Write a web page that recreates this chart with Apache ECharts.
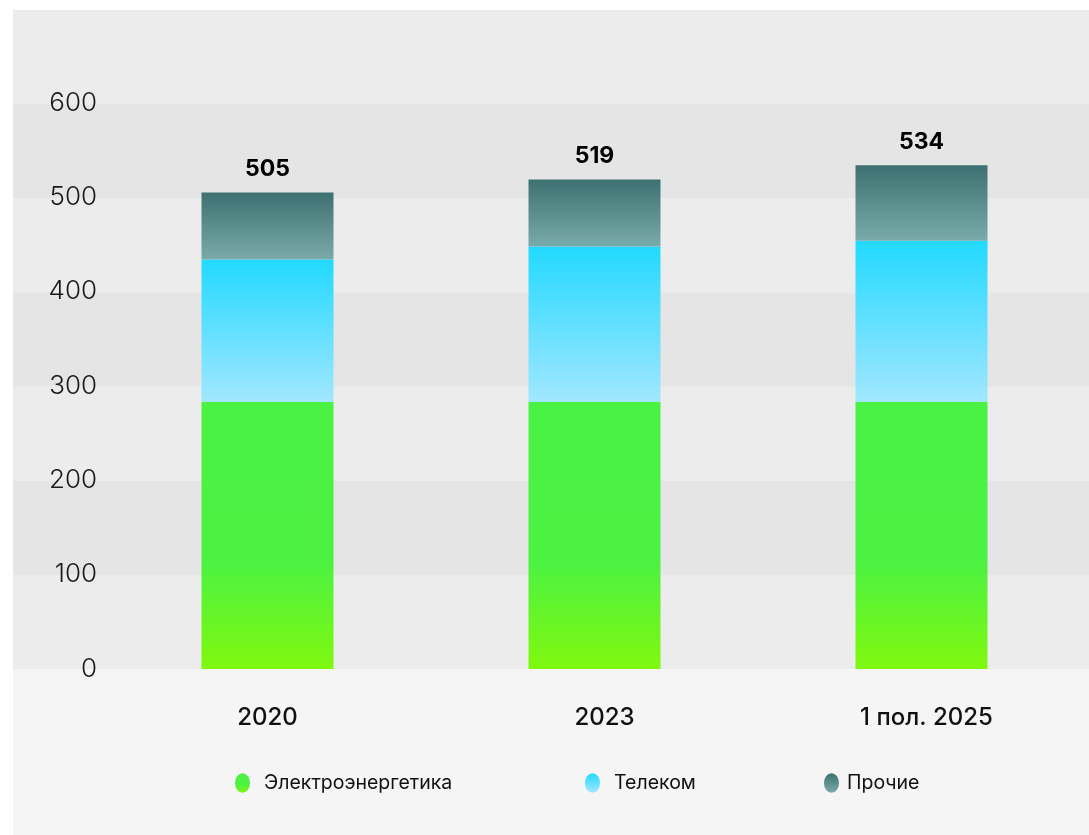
<!DOCTYPE html>
<html>
<head>
<meta charset="utf-8">
<script src="https://cdn.jsdelivr.net/npm/echarts@6/dist/echarts.min.js"></script>
<style>
  html, body { margin: 0; padding: 0; background: #ffffff; }
  #chart { position: absolute; left: 13px; top: 10px; width: 1076px; height: 825px; }
</style>
</head>
<body>
<div id="chart"></div>
<script>
// данные
var categories = ['2020', '2023', '1 пол. 2025'];
var energy = [283, 283, 283];
var telecom = [151, 165, 171];
var other = [71, 71, 80];
var totals = [505, 519, 534];
var yTicks = [0, 100, 200, 300, 400, 500, 600];

var font = 'Inter, "Noto Sans", sans-serif';
var ellipse = 'path://M50,0 A50,65 0 1,1 50,130 A50,65 0 1,1 50,0 Z';

function grad(top, mid, bottom) {
  return new echarts.graphic.LinearGradient(0, 0, 0, 1, [
    { offset: 0, color: top },
    { offset: 0.6, color: mid },
    { offset: 1, color: bottom }
  ]);
}

var chart = echarts.init(document.getElementById('chart'), null, { renderer: 'canvas' });

function legendAt(left, name, gap) {
  return {
    top: 763,
    left: left,
    padding: 0,
    icon: ellipse,
    itemWidth: 15,
    itemHeight: 20,
    selectedMode: false,
    data: [name],
    textStyle: { fontFamily: font, fontSize: 19.5, color: '#111111', padding: [0, 0, 0, gap] }
  };
}

// подписи категорий, чуть сдвинутые как в оригинале
var catData = categories.map(function (c, i) {
  var shift = [0, 20, 10][i];
  return { value: c, textStyle: { padding: [0, 0, 0, shift] } };
});

var option = {
  backgroundColor: '#f5f5f5',
  animation: false,
  legend: [
    legendAt(222, 'Электроэнергетика', 9),
    legendAt(572, 'Телеком', 9),
    legendAt(811, 'Прочие', 3)
  ],
  grid: [
    // фон с полосами
    { left: 0, right: 0, top: 0, bottom: 166, show: true, backgroundColor: '#ececec', borderWidth: 0 },
    // сами столбцы
    { left: 91, right: 4, top: 93, bottom: 166 }
  ],
  xAxis: [
    { gridIndex: 0, type: 'value', show: false },
    {
      gridIndex: 1,
      type: 'category',
      data: catData,
      axisLine: { show: false },
      axisTick: { show: false },
      axisLabel: { margin: 37, fontFamily: font, fontSize: 24, fontWeight: 500, color: '#111111' }
    }
  ],
  yAxis: [
    {
      gridIndex: 0,
      type: 'value',
      min: 0,
      max: 700,
      interval: 100,
      axisLine: { show: false },
      axisTick: { show: false },
      axisLabel: { show: false },
      splitLine: { show: false },
      splitArea: { show: true, areaStyle: { color: ['#ececec', '#e5e5e5'] } }
    },
    {
      gridIndex: 1,
      type: 'value',
      min: yTicks[0],
      max: yTicks[yTicks.length - 1],
      interval: 100,
      axisLine: { show: false },
      axisTick: { show: false },
      splitLine: { show: false },
      axisLabel: { margin: 7, fontFamily: font, fontSize: 26, fontWeight: 300, color: '#1a1a1a' }
    }
  ],
  series: [
    {
      name: 'Электроэнергетика',
      type: 'bar',
      stack: 'total',
      xAxisIndex: 1,
      yAxisIndex: 1,
      barWidth: 132,
      itemStyle: { color: grad('#4af244', '#4cf242', '#80f80f') },
      data: energy
    },
    {
      name: 'Телеком',
      type: 'bar',
      stack: 'total',
      xAxisIndex: 1,
      yAxisIndex: 1,
      barWidth: 132,
      itemStyle: {
        color: new echarts.graphic.LinearGradient(0, 0, 0, 1, [
          { offset: 0, color: '#22d9ff' },
          { offset: 1, color: '#a2e7ff' }
        ])
      },
      data: telecom
    },
    {
      name: 'Прочие',
      type: 'bar',
      stack: 'total',
      xAxisIndex: 1,
      yAxisIndex: 1,
      barWidth: 132,
      itemStyle: {
        color: new echarts.graphic.LinearGradient(0, 0, 0, 1, [
          { offset: 0, color: '#3d7070' },
          { offset: 1, color: '#79abab' }
        ])
      },
      label: {
        show: true,
        position: 'top',
        distance: 12,
        fontFamily: font,
        fontSize: 23,
        fontWeight: 'bold',
        color: '#000000',
        formatter: function (p) { return totals[p.dataIndex]; }
      },
      data: other
    }
  ]
};

chart.setOption(option);
</script>
</body>
</html>
